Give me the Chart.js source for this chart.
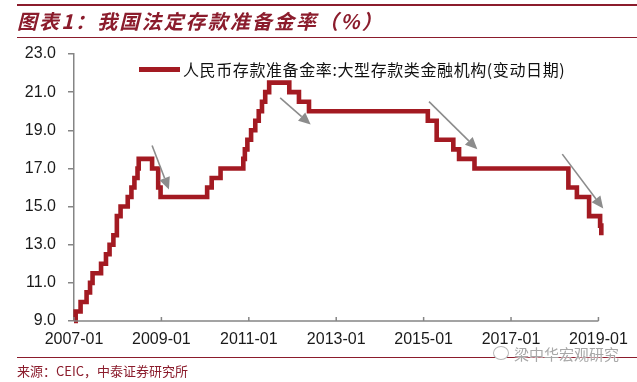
<!DOCTYPE html>
<html>
<head>
<meta charset="utf-8">
<script src="https://cdn.jsdelivr.net/npm/chart.js@4.4.1/dist/chart.umd.min.js"></script>
<style>
  html, body { margin: 0; padding: 0; background: #fff; }
  #wrap { position: relative; width: 637px; height: 382px; overflow: hidden; font-family: "Noto Sans CJK SC", sans-serif; }
  #chart { position: absolute; left: 0; top: 0; }
  .rule { position: absolute; left: 17px; right: 0; background: #8b1c2c; }
  #title { position: absolute; left: 17px; top: 7px; font-size: 20px; letter-spacing: 2.1px; line-height: 28px; font-weight: bold; font-style: italic; color: #8b1c2c; white-space: nowrap; }
  #legend { position: absolute; left: 139px; top: 58px; height: 22px; display: flex; align-items: center; white-space: nowrap; }
  #legend .swatch { width: 41px; height: 5px; background: #a31a22; margin-right: 3px; }
  #legend .label { font-size: 16px; letter-spacing: 0.6px; color: #111; }
  #source { position: absolute; left: 17px; top: 362px; font-size: 13px; line-height: 18px; color: #8b1c2c; white-space: nowrap; }
  #mark { position: absolute; left: 493px; top: 343px; height: 20px; display: flex; align-items: center; white-space: nowrap; color: #a8a8a8; font-size: 15px; text-shadow: 0 0 2px #fff, 0 0 2px #fff; }
  #mark .icon { width: 14px; height: 12px; border: 1.5px solid #b8b8b8; border-radius: 50%; margin-right: 5px; background: #fff; }
</style>
</head>
<body>
<div id="wrap">
  <canvas id="chart" width="637" height="382"></canvas>
  <div class="rule" style="top:4px;height:2px;"></div>
  <div id="title">图表1：我国法定存款准备金率（%）</div>
  <div class="rule" style="top:37px;height:1px;"></div>
  <div id="legend"><span class="swatch"></span><span class="label">人民币存款准备金率:大型存款类金融机构(变动日期)</span></div>
  <div class="rule" style="top:357px;height:1px;"></div>
  <div id="source">来源：CEIC，中泰证券研究所</div>
  <div id="mark"><span class="icon"></span><span>梁中华宏观研究</span></div>
</div>
<script>
// change dates and the reserve ratio that applies from each date (%)
const changeDates = [
  '2007-01-01', '2007-01-15', '2007-02-25', '2007-04-16', '2007-05-15', '2007-06-05',
  '2007-08-15', '2007-09-25', '2007-10-25', '2007-11-26', '2007-12-25', '2008-01-25',
  '2008-03-25', '2008-04-25', '2008-05-20', '2008-06-15', '2008-06-25', '2008-10-15',
  '2008-12-05', '2008-12-25', '2010-01-18', '2010-02-25', '2010-05-10', '2010-11-16',
  '2010-11-29', '2010-12-20', '2011-01-20', '2011-02-24', '2011-03-25', '2011-04-21',
  '2011-05-18', '2011-06-20', '2011-12-05', '2012-02-24', '2012-05-18', '2015-02-05',
  '2015-04-20', '2015-09-06', '2015-10-24', '2016-03-01', '2018-04-25', '2018-07-05',
  '2018-10-15', '2019-01-15', '2019-01-25'
];
const reserveRatio = [
  9.0, 9.5, 10.0, 10.5, 11.0, 11.5,
  12.0, 12.5, 13.0, 13.5, 14.5, 15.0,
  15.5, 16.0, 16.5, 17.0, 17.5, 17.0,
  16.0, 15.5, 16.0, 16.5, 17.0, 17.5,
  18.0, 18.5, 19.0, 19.5, 20.0, 20.5,
  21.0, 21.5, 21.0, 20.5, 20.0, 19.5,
  18.5, 18.0, 17.5, 17.0, 16.0, 15.5,
  14.5, 14.0, 13.5
];
const xTickYears = [2007, 2009, 2011, 2013, 2015, 2017, 2019];
const yTicks = [9, 11, 13, 15, 17, 19, 21, 23];

// grey trend arrows, in [date, ratio] terms
const arrowFrom = [['2008-10-15', 18.2], ['2011-09-20', 20.7], ['2015-02-15', 20.5], ['2018-03-05', 17.75]];
const arrowTo   = [['2009-03-05', 15.9], ['2012-06-01', 19.3], ['2016-03-25', 18.0], ['2019-02-10', 14.9]];

function toYear(s) {
  const [y, m, d] = s.split('-').map(Number);
  const start = Date.UTC(y, 0, 1), end = Date.UTC(y + 1, 0, 1);
  return y + (Date.UTC(y, m - 1, d) - start) / (end - start);
}

const points = changeDates.map((d, i) => ({ x: toYear(d), y: reserveRatio[i] }));
const lastTick = xTickYears[xTickYears.length - 1];

const axisGrey = '#858585';

const arrowPlugin = {
  id: 'arrows',
  afterDatasetsDraw(chart) {
    const { ctx, scales: { x, y } } = chart;
    ctx.save();
    ctx.strokeStyle = '#8c8c8c';
    ctx.fillStyle = '#8c8c8c';
    ctx.lineWidth = 1.6;
    arrowFrom.forEach((f, i) => {
      const t = arrowTo[i];
      const x1 = x.getPixelForValue(toYear(f[0])), y1 = y.getPixelForValue(f[1]);
      const x2 = x.getPixelForValue(toYear(t[0])), y2 = y.getPixelForValue(t[1]);
      const ang = Math.atan2(y2 - y1, x2 - x1);
      const head = 12, half = 5.5;
      const bx = x2 - head * Math.cos(ang), by = y2 - head * Math.sin(ang);
      ctx.beginPath();
      ctx.moveTo(x1, y1);
      ctx.lineTo(bx, by);
      ctx.stroke();
      ctx.beginPath();
      ctx.moveTo(x2, y2);
      ctx.lineTo(bx + half * Math.sin(ang), by - half * Math.cos(ang));
      ctx.lineTo(bx - half * Math.sin(ang), by + half * Math.cos(ang));
      ctx.closePath();
      ctx.fill();
    });
    ctx.restore();
  }
};

// x axis line stops at the last tick; small ticks point up into the plot
const xAxisLine = {
  id: 'xAxisLine',
  afterDraw(chart) {
    const { ctx, scales: { x } } = chart;
    ctx.save();
    ctx.strokeStyle = axisGrey;
    ctx.lineWidth = 1.5;
    ctx.beginPath();
    ctx.moveTo(x.left, x.top);
    ctx.lineTo(x.getPixelForValue(lastTick), x.top);
    ctx.stroke();
    x.ticks.forEach(t => {
      const px = x.getPixelForValue(t.value);
      ctx.beginPath();
      ctx.moveTo(px, x.top);
      ctx.lineTo(px, x.top - 4);
      ctx.stroke();
    });
    ctx.restore();
  }
};

new Chart(document.getElementById('chart'), {
  type: 'line',
  data: {
    datasets: [{
      label: '人民币存款准备金率:大型存款类金融机构(变动日期)',
      data: points,
      stepped: true,
      borderColor: '#a31a22',
      borderWidth: 4.6,
      pointRadius: 0,
      fill: false,
      clip: false
    }]
  },
  options: {
    responsive: false,
    animation: false,
    layout: { padding: { left: 0, right: 30, top: 54, bottom: 0 } },
    plugins: { legend: { display: false }, tooltip: { enabled: false } },
    scales: {
      x: {
        type: 'linear',
        min: xTickYears[0],
        max: lastTick + 1 / 12,
        afterBuildTicks: s => { s.ticks = xTickYears.map(v => ({ value: v })); },
        afterFit: s => { s.height = 61; },
        grid: { drawOnChartArea: false, drawTicks: false },
        border: { display: false },
        ticks: {
          padding: 9,
          maxRotation: 0,
          color: '#1a1a1a',
          font: { family: 'Liberation Sans', size: 16 },
          callback: v => v + '-01'
        }
      },
      y: {
        min: yTicks[0],
        max: yTicks[yTicks.length - 1],
        afterBuildTicks: s => { s.ticks = yTicks.map(v => ({ value: v })); },
        afterFit: s => { s.width = 74; },
        grid: { drawOnChartArea: false, tickLength: 6, color: axisGrey, lineWidth: 1.5 },
        border: { color: axisGrey, width: 1.5 },
        ticks: {
          padding: 12,
          color: '#1a1a1a',
          font: { family: 'Liberation Sans', size: 16 },
          callback: v => Number(v).toFixed(1)
        }
      }
    }
  },
  plugins: [arrowPlugin, xAxisLine]
});
</script>
</body>
</html>
